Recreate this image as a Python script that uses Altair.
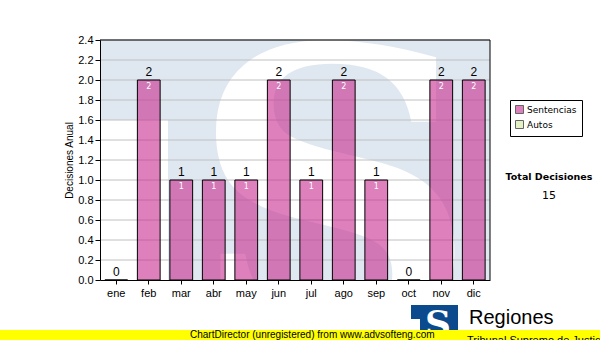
import altair as alt
import pandas as pd

# ---- data ----
months = ["ene", "feb", "mar", "abr", "may", "jun", "jul", "ago", "sep", "oct", "nov", "dic"]
sentencias = [0, 2, 1, 1, 1, 2, 1, 2, 1, 0, 2, 2]
series_names = ["Sentencias", "Autos"]
y_ticks = [0.0, 0.2, 0.4, 0.6, 0.8, 1.0, 1.2, 1.4, 1.6, 1.8, 2.0, 2.2, 2.4]

W, H = 390, 240
PINK = "#c82b8f"
GREEN = "#d4e8a0"
FONT = "Liberation Sans"
VFONT = "DejaVu Sans"

df = pd.DataFrame({"mes": months, "valor": sentencias, "serie": "Sentencias"})
grid_df = pd.DataFrame({"valor": y_ticks[1:]})
one = pd.DataFrame({"k": [0]})
total = int(sum(sentencias))

x_enc = alt.X("mes:N", sort=months,
              scale=alt.Scale(paddingInner=0.3, paddingOuter=0.15),
              axis=alt.Axis(title=None, labelAngle=0, tickSize=4, labelPadding=3,
                            domainColor="black", tickColor="black", zindex=2))
y_axis = alt.Axis(values=y_ticks, format=".1f", title="Decisiones Anual", grid=False,
                  tickSize=5, labelPadding=2, titlePadding=3, zindex=2)
y_scale = alt.Scale(domain=[0, 2.4], nice=False, zero=True)

# ---- watermark decoration ----
bg = alt.Chart(one).mark_rect(color="#dfe8f1").encode(
    x=alt.value(0), x2=alt.value(W), y=alt.value(0), y2=alt.value(H))
bg_cut = alt.Chart(one).mark_rect(color="white").encode(
    x=alt.value(0), x2=alt.value(68), y=alt.value(80), y2=alt.value(H))
big_s = alt.Chart(one).mark_text(text="S", font="DejaVu Serif", fontWeight="bold",
                                 fontSize=400, color="white", align="center",
                                 baseline="alphabetic", clip=True).encode(
    x=alt.value(234), y=alt.value(297))

# ---- grid ----
grid = alt.Chart(grid_df).mark_rule(color="#c0c0c0", strokeWidth=1).encode(
    y=alt.Y("valor:Q", scale=y_scale, axis=y_axis))

# ---- bars ----
bars = alt.Chart(df).mark_bar(fillOpacity=0.6, stroke="black", strokeWidth=1).encode(
    x=x_enc,
    y=alt.Y("valor:Q", scale=y_scale, axis=y_axis),
    color=alt.Color("serie:N",
                    scale=alt.Scale(domain=series_names, range=[PINK, GREEN]),
                    legend=alt.Legend(title=None, orient="none", legendX=410, legendY=60,
                                      padding=5, strokeColor="black", fillColor="white",
                                      symbolType="square", symbolSize=64,
                                      symbolStrokeColor="black", symbolStrokeWidth=1,
                                      symbolOpacity=0.6,
                                      labelFont=VFONT, labelFontSize=9, labelColor="black",
                                      rowPadding=2, labelOffset=3)),
)

top_labels = alt.Chart(df).mark_text(font=FONT, fontSize=12, color="black",
                                     baseline="bottom", dy=-1).encode(
    x=x_enc, y=alt.Y("valor:Q", scale=y_scale, axis=y_axis), text="valor:Q")

in_labels = alt.Chart(df).transform_filter("datum.valor > 0").mark_text(
    font=VFONT, fontSize=8, color="white", baseline="top", dy=3).encode(
    x=x_enc, y=alt.Y("valor:Q", scale=y_scale, axis=y_axis), text="valor:Q")

# frame (top and right edges)
frame_top = alt.Chart(one).mark_rule(color="black").encode(
    x=alt.value(0), x2=alt.value(W), y=alt.value(0))
frame_right = alt.Chart(one).mark_rule(color="black").encode(
    x=alt.value(W), y=alt.value(0), y2=alt.value(H))

# ---- side texts ----
tot_title = alt.Chart(one).mark_text(text="Total Decisiones", font=VFONT, fontSize=9.5,
                                     fontWeight="bold", color="black", align="center").encode(
    x=alt.value(449), y=alt.value(137))
tot_val = alt.Chart(one).mark_text(text=str(total), font=VFONT, fontSize=11,
                                   color="black", align="center").encode(
    x=alt.value(449), y=alt.value(156))

# ---- footer: logo, brand, unregistered strip ----
logo = alt.Chart(one).mark_rect(color="#0b4a8c").encode(
    x=alt.value(311), x2=alt.value(358), y=alt.value(265), y2=alt.value(300))
logo_notch = alt.Chart(one).mark_rect(color="white").encode(
    x=alt.value(311), x2=alt.value(320), y=alt.value(279), y2=alt.value(300))
logo_s = alt.Chart(one).mark_text(text="S", font="DejaVu Serif", fontWeight="bold",
                                  fontSize=36, color="white", align="center",
                                  baseline="alphabetic").encode(
    x=alt.value(338), y=alt.value(296))
brand = alt.Chart(one).mark_text(text="Regiones", font=FONT, fontSize=20, color="black",
                                 align="left", baseline="alphabetic").encode(
    x=alt.value(369), y=alt.value(284))
yellow = alt.Chart(one).mark_rect(color="#ffff00").encode(
    x=alt.value(-100), x2=alt.value(500), y=alt.value(290), y2=alt.value(300))
sub = alt.Chart(one).mark_text(text="Tribunal Supremo de Justicia", font=FONT, fontSize=11,
                               color="black", align="left", baseline="alphabetic").encode(
    x=alt.value(367), y=alt.value(304))
cd = alt.Chart(one).mark_text(text="ChartDirector (unregistered) from www.advsofteng.com",
                              font=FONT, fontSize=10, color="black", align="left",
                              baseline="alphabetic").encode(
    x=alt.value(90), y=alt.value(298))

chart = alt.layer(
    bg, bg_cut, big_s, grid, bars, top_labels, in_labels, frame_top, frame_right,
    tot_title, tot_val, logo, logo_notch, logo_s, brand, yellow, cd, sub
).properties(
    width=W, height=H,
    autosize=alt.AutoSizeParams(type="none"),
    padding={"left": 100, "top": 40, "right": 110, "bottom": 60},
    background="white",
).configure_axis(
    labelFont=FONT, labelFontSize=11, labelColor="black",
    titleFont=FONT, titleFontSize=10, titleFontWeight="normal", titleColor="black",
    domainColor="black", tickColor="black",
).configure_view(stroke=None)

chart.save("out.html", embed_options={"renderer": "svg", "actions": False})
